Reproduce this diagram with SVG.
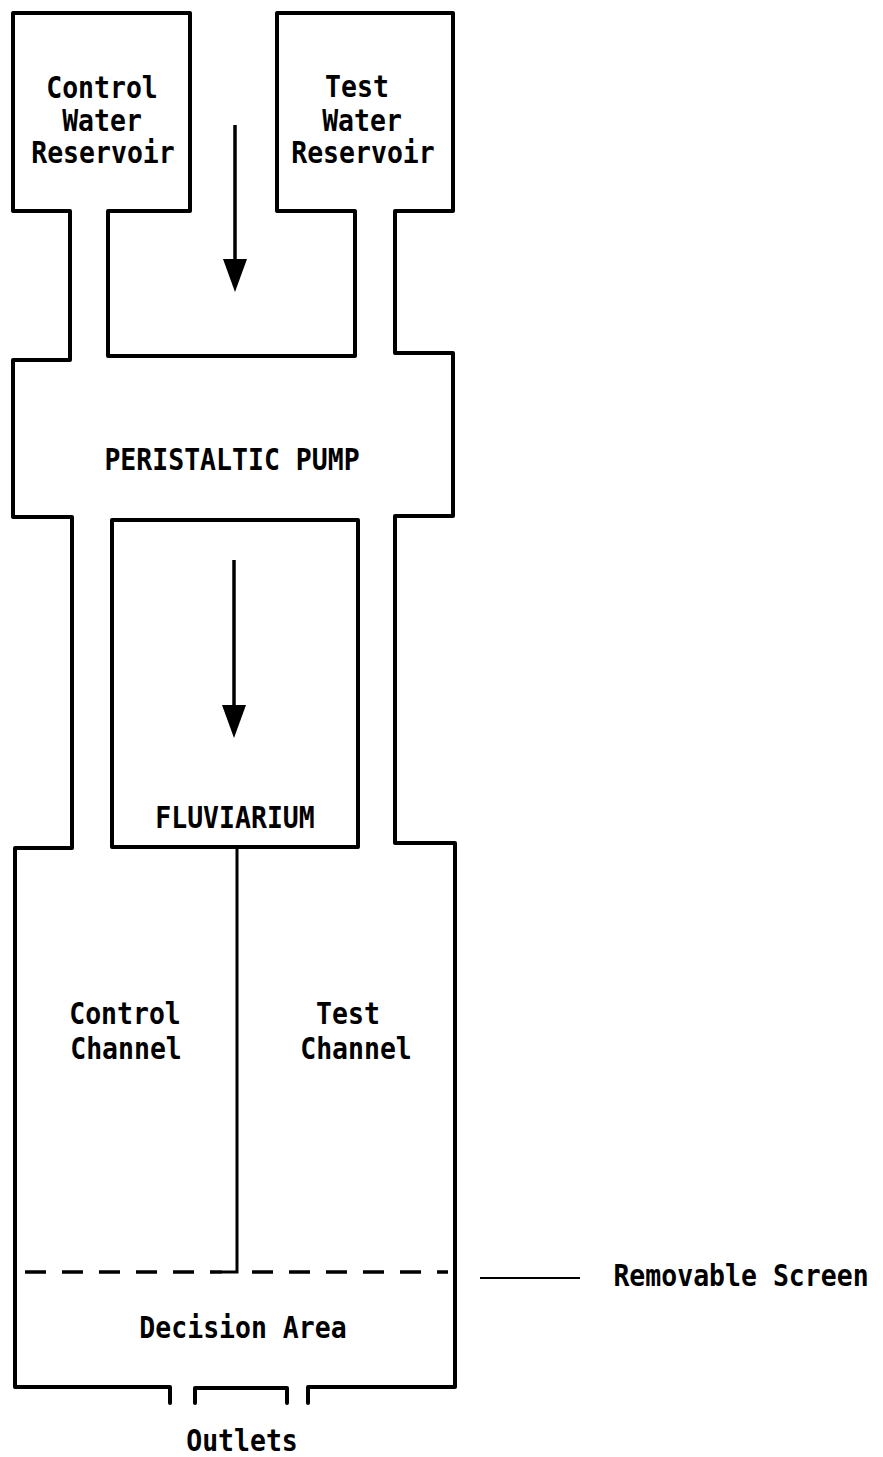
<svg xmlns="http://www.w3.org/2000/svg" width="883" height="1457" viewBox="0 0 883 1457">
<style>
.wall{fill:none;stroke:#000;stroke-width:4;stroke-linejoin:round;stroke-linecap:round}
.thin{fill:none;stroke:#000;stroke-width:3;stroke-linecap:butt}
.dash{fill:none;stroke:#000;stroke-width:3.5;stroke-dasharray:21 16}
.lbl{font-family:"DejaVu Sans Mono","Liberation Mono",monospace;font-size:26.5px;font-weight:bold;fill:#000;text-anchor:middle}
.shaft{stroke:#000;stroke-width:3.5}
.head{fill:#000}
</style>
<rect width="883" height="1457" fill="#fff"/>
<g id="outline">
<path class="wall" d="M170,1403 V1387 H15 V848 H72 V517 H13 V360 H70 V211 H13 V13 H190 V211 H108 V356 H355 V211 H277 V13 H453 V211 H395 V353 H453 V516 H395 V843 H455 V1387 H308 V1403"/>
<path class="wall" d="M195,1403 V1388 H287 V1403"/>
</g>
<g id="control-reservoir">
<text class="lbl" transform="translate(102,98) scale(1,1.12)">Control</text>
<text class="lbl" transform="translate(102,131) scale(1,1.12)">Water</text>
<text class="lbl" transform="translate(103,163) scale(1,1.12)">Reservoir</text>
</g>
<g id="test-reservoir">
<text class="lbl" transform="translate(357,97) scale(1,1.12)">Test</text>
<text class="lbl" transform="translate(362,131) scale(1,1.12)">Water</text>
<text class="lbl" transform="translate(363,163) scale(1,1.12)">Reservoir</text>
</g>
<g id="pump">
<text class="lbl" transform="translate(232,470) scale(1,1.12)">PERISTALTIC PUMP</text>
</g>
<g id="fluviarium">
<rect class="wall" x="112" y="520" width="246" height="327"/>
<text class="lbl" transform="translate(235,828) scale(1,1.12)">FLUVIARIUM</text>
</g>
<g id="channels">
<path class="thin" d="M237,847 V1272 H222"/>
<text class="lbl" transform="translate(125,1024) scale(1,1.12)">Control</text>
<text class="lbl" transform="translate(126,1059) scale(1,1.12)">Channel</text>
<text class="lbl" transform="translate(348,1024) scale(1,1.12)">Test</text>
<text class="lbl" transform="translate(356,1059) scale(1,1.12)">Channel</text>
</g>
<g id="screen">
<path class="dash" d="M25,1272 H222"/>
<path class="dash" d="M252,1272 H448"/>
<line x1="480" y1="1278" x2="580" y2="1278" stroke="#000" stroke-width="2"/>
<text class="lbl" transform="translate(741,1286) scale(1,1.12)">Removable Screen</text>
</g>
<g id="decision-area">
<text class="lbl" transform="translate(243,1338) scale(1,1.12)">Decision Area</text>
</g>
<g id="outlets">
<text class="lbl" transform="translate(242,1451) scale(1,1.12)">Outlets</text>
</g>
<g id="connectors">
<line class="shaft" x1="235" y1="125" x2="235" y2="262"/>
<polygon class="head" points="223,259 247,259 235,292"/>
<line class="shaft" x1="234" y1="560" x2="234" y2="708"/>
<polygon class="head" points="222,705 246,705 234,738"/>
</g>
</svg>
